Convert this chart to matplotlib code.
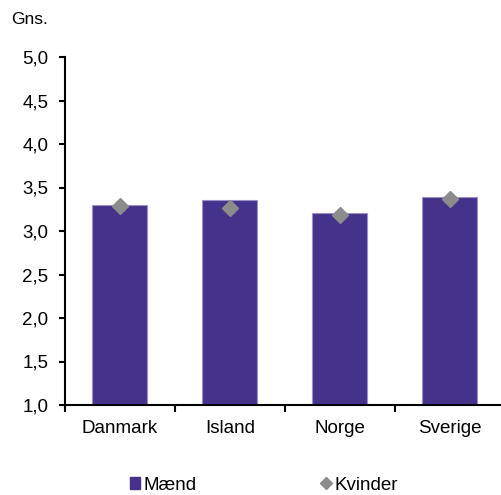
import matplotlib
matplotlib.use("Agg")
import matplotlib.pyplot as plt
from matplotlib.lines import Line2D
from matplotlib.patches import Patch
import numpy as np

plt.rcParams['font.family'] = ['Liberation Sans', 'DejaVu Sans']

countries = ["Danmark", "Island", "Norge", "Sverige"]
maend = [3.30, 3.36, 3.21, 3.39]
kvinder = [3.29, 3.26, 3.18, 3.37]
yticks = [1.0, 1.5, 2.0, 2.5, 3.0, 3.5, 4.0, 4.5, 5.0]

bar_color = "#46328B"
diamond_color = "#8C8C8C"

fig = plt.figure(figsize=(5.02, 4.95), dpi=100)
ax = fig.add_axes([65 / 502, 1 - 405 / 495, 440 / 502, 348 / 495])

x = np.arange(len(countries))
ax.bar(x, np.array(maend) - 1.0, bottom=1.0, width=0.5, color=bar_color,
       edgecolor="#9C90C8", linewidth=0.8, zorder=2)
ax.plot(x, kvinder, linestyle="none", marker="D", markersize=8,
        color=diamond_color, zorder=3)

ax.set_xlim(-0.5, len(countries) - 0.5)
ax.set_ylim(1.0, 5.0)
ax.set_yticks(yticks)
ax.set_yticklabels(["{:.1f}".format(v).replace(".", ",") for v in yticks])

ax.set_xticks(np.arange(-0.5, len(countries), 1.0))
ax.set_xticklabels([])
ax.set_xticks(x, minor=True)
ax.set_xticklabels(countries, minor=True)
ax.tick_params(axis="x", which="major", direction="out", length=5, width=1.5)
ax.tick_params(axis="x", which="minor", length=0, pad=11, labelsize=13.5)
ax.tick_params(axis="y", direction="out", length=4, width=1.5, labelsize=13.5, pad=8)

for side in ["top", "right"]:
    ax.spines[side].set_visible(False)
for side in ["left", "bottom"]:
    ax.spines[side].set_linewidth(1.5)

fig.text(11 / 502, 1 - 20 / 495, "Gns.", fontsize=12.5, va="center", ha="left")

handles = [
    Patch(facecolor=bar_color, edgecolor=bar_color),
    Line2D([], [], linestyle="none", marker="D", markersize=6, color=diamond_color),
]
fig.legend(handles, ["Mænd", "Kvinder"], loc="center", ncol=2,
           bbox_to_anchor=(264 / 502, 1 - 485 / 495), frameon=False,
           fontsize=13.5, columnspacing=6.6, handlelength=0.55, handletextpad=0.2,
           handleheight=0.55, borderpad=0)

fig.savefig("out.png", dpi=100)
